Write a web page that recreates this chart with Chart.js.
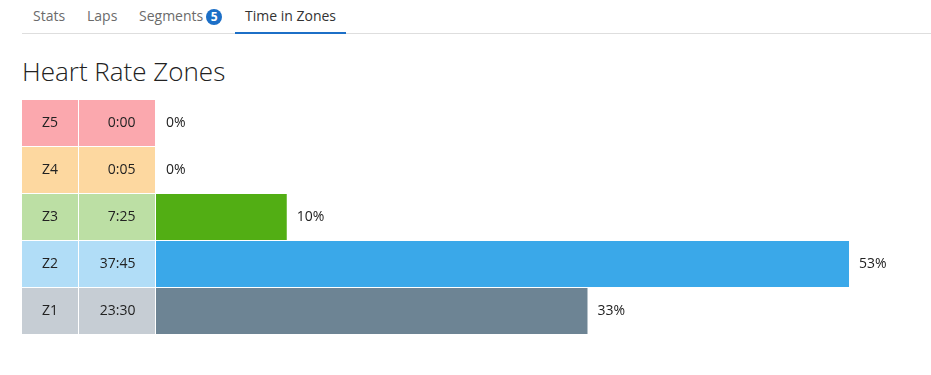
<!DOCTYPE html>
<html>
<head>
<meta charset="utf-8">
<script src="https://cdn.jsdelivr.net/npm/chart.js@4/dist/chart.umd.min.js"></script>
<style>
  html, body { margin: 0; padding: 0; background: #fff; }
  body { width: 931px; height: 375px; position: relative; overflow: hidden; font-family: "Open Sans", sans-serif; }
  .tab { position: absolute; top: 6px; font-size: 14px; line-height: 19px; color: #6b6b6b; white-space: nowrap; }
  .tab.active { color: #333; }
  .badge { display: inline-block; width: 16px; height: 16px; border-radius: 50%; background: #1c6fc7; color: #fff; font-size: 12px; font-weight: 700; line-height: 16px; text-align: center; vertical-align: 0px; margin-left: 3px; }
  #rule { position: absolute; left: 22px; top: 33px; width: 909px; height: 1px; background: #dedede; }
  #active { position: absolute; left: 235px; top: 32px; width: 111px; height: 2px; background: #1c6fc7; }
  h1 { position: absolute; left: 22px; top: 54px; margin: 0; font-size: 26px; font-weight: 300; line-height: 35px; color: #222; white-space: nowrap; }
  #wrap { position: absolute; left: 0; top: 0; width: 931px; height: 375px; }
</style>
</head>
<body>
<div class="tab" style="left:33px">Stats</div>
<div class="tab" style="left:87px">Laps</div>
<div class="tab" style="left:139px">Segments<span class="badge">5</span></div>
<div class="tab active" style="left:245px">Time in Zones</div>
<div id="rule"></div>
<div id="active"></div>
<h1>Heart Rate Zones</h1>
<div id="wrap"><canvas id="c" width="931" height="375"></canvas></div>
<script>
const zones = ["Z5", "Z4", "Z3", "Z2", "Z1"];
const times = ["0:00", "0:05", "7:25", "37:45", "23:30"];
const percents = [0, 0, 10, 53, 33];
const cellColors = ["#fba8ae", "#fdd8a0", "#bcdfa4", "#b1ddf7", "#c6cdd4"];
const barColors = ["#e8424f", "#f5a623", "#52ae14", "#3aa8e9", "#6d8494"];

const cellsPlugin = {
  id: "cells",
  afterDatasetsDraw(chart) {
    const ctx = chart.ctx;
    const ys = chart.scales.y;
    const meta = chart.getDatasetMeta(0);
    ctx.save();
    ctx.font = '14px "Open Sans", sans-serif';
    ctx.textBaseline = "middle";
    zones.forEach((z, i) => {
      const cy = ys.getPixelForValue(i);
      const top = cy - 23, h = 46;
      ctx.fillStyle = cellColors[i];
      ctx.fillRect(22, top, 56, h);
      ctx.fillRect(79, top, 76, h);
      ctx.fillStyle = "#222";
      ctx.textAlign = "center";
      ctx.fillText(z, 50, cy);
      ctx.textAlign = "right";
      ctx.fillText(times[i], 135.5, cy);
      const bar = meta.data[i];
      ctx.textAlign = "left";
      ctx.fillText(percents[i] + "%", bar.x + 10, cy);
    });
    ctx.restore();
  }
};

new Chart(document.getElementById("c"), {
  type: "bar",
  data: {
    labels: zones,
    datasets: [{
      data: percents,
      backgroundColor: barColors,
      borderWidth: 0,
      categoryPercentage: 46 / 47,
      barPercentage: 1
    }]
  },
  options: {
    indexAxis: "y",
    responsive: false,
    animation: false,
    layout: { padding: { left: 156, top: 99.5, bottom: 40.5, right: 0 } },
    plugins: { legend: { display: false }, tooltip: { enabled: false } },
    scales: {
      x: { display: false, min: 0, max: 59.27 },
      y: { display: false }
    }
  },
  plugins: [cellsPlugin]
});
</script>
</body>
</html>
